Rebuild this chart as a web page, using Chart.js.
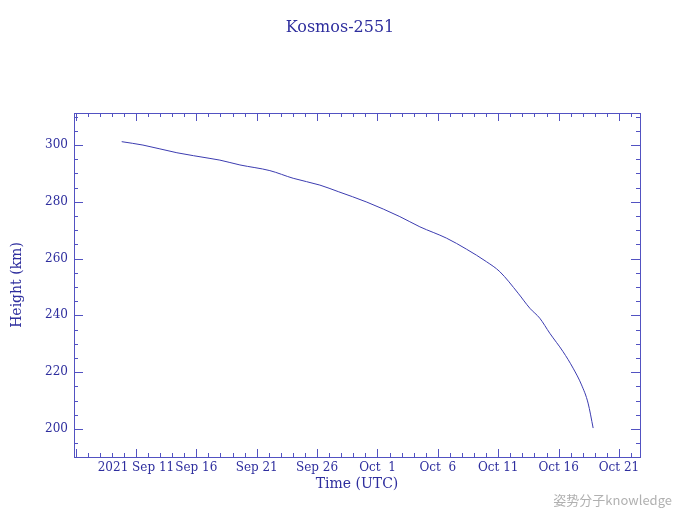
<!DOCTYPE html>
<html>
<head>
<meta charset="utf-8">
<script src="https://cdn.jsdelivr.net/npm/chart.js@4/dist/chart.umd.min.js"></script>
<style>
  html, body { margin: 0; padding: 0; background: #fff; }
  #wrap { width: 680px; height: 514px; }
</style>
</head>
<body>
<div id="wrap"><canvas id="decayChart" width="680" height="514"></canvas></div>
<script>
// days counted from 2021 Sep 1 (00:00 UTC)
const days = [8.82, 10.58, 13.39, 16.13, 16.95, 18.61, 21.09, 23.02, 25.23, 26.75,
              29.12, 31.85, 33.51, 35.72, 37.38, 39.03, 40.13, 41.65, 42.62, 43.44,
              44.27, 45.37, 46.20, 46.90, 47.44, 47.86];
const heights = [301.2, 300.0, 297.3, 295.3, 294.7, 293.0, 291.0, 288.3, 285.9, 283.6,
                 279.9, 274.8, 271.2, 267.2, 263.3, 258.9, 255.4, 247.8, 242.5, 239.0,
                 233.7, 227.2, 221.4, 215.5, 209.1, 200.3];
const xLabelDays = [10, 15, 20, 25, 30, 35, 40, 45, 50];
const yLabels = [200, 220, 240, 260, 280, 300];

const months = ['Jan', 'Feb', 'Mar', 'Apr', 'May', 'Jun', 'Jul', 'Aug', 'Sep', 'Oct', 'Nov', 'Dec'];
const inkColor = '#2e2e9e';
const axisColor = '#5252c2';

function dayLabel(v) {
    const d = new Date(Date.UTC(2021, 8, 1) + v * 86400000);
    const dd = d.getUTCDate();
    let s = months[d.getUTCMonth()] + ' ' + (dd < 10 ? ' ' + dd : dd);
    if (v === xLabelDays[0]) s = '2021 ' + s;
    return s;
}

// inward tick marks on all four sides, like the original plot
const boxTicks = {
    id: 'boxTicks',
    afterDraw(chart) {
        const ctx = chart.ctx;
        const a = chart.chartArea;
        const xs = chart.scales.x, ys = chart.scales.y;
        ctx.save();
        ctx.strokeStyle = axisColor;
        ctx.lineWidth = 1;
        ctx.strokeRect(Math.round(a.left) + 0.5, Math.round(a.top) + 0.5,
                       Math.round(a.right - a.left), Math.round(a.bottom - a.top));
        ctx.beginPath();
        xs.ticks.forEach(t => {
            const px = Math.round(xs.getPixelForValue(t.value)) + 0.5;
            const len = t.value % 5 === 0 ? 8 : 4;
            ctx.moveTo(px, a.bottom); ctx.lineTo(px, a.bottom - len);
            ctx.moveTo(px, a.top); ctx.lineTo(px, a.top + len);
        });
        ys.ticks.forEach(t => {
            const py = Math.round(ys.getPixelForValue(t.value)) + 0.5;
            const len = t.value % 20 === 0 ? 9 : 4;
            ctx.moveTo(a.left, py); ctx.lineTo(a.left + len, py);
            ctx.moveTo(a.right, py); ctx.lineTo(a.right - len, py);
        });
        ctx.stroke();

        ctx.font = '13px "Noto Sans CJK SC"';
        ctx.fillStyle = 'rgba(150,150,150,0.75)';
        ctx.textAlign = 'right';
        ctx.textBaseline = 'middle';
        ctx.fillText('姿势分子knowledge', 672, 500);
        ctx.restore();
    }
};

var ctx = document.getElementById('decayChart').getContext('2d');
var decayChart = new Chart(ctx, {
    type: 'line',
    data: {
        datasets: [{
            label: 'Height',
            data: days.map((d, i) => ({ x: d, y: heights[i] })),
            borderColor: '#3c3cb0',
            borderWidth: 1,
            pointRadius: 0,
            cubicInterpolationMode: 'monotone',
            fill: false
        }]
    },
    options: {
        responsive: false,
        animation: false,
        layout: { padding: { left: 0, right: 0, top: 0, bottom: 20 } },
        plugins: {
            legend: { display: false },
            tooltip: { enabled: false },
            title: {
                display: true,
                text: 'Kosmos-2551',
                color: inkColor,
                font: { family: 'DejaVu Serif', size: 16, weight: 'normal', lineHeight: 1.2 },
                padding: { top: 18, bottom: 75.8 }
            }
        },
        scales: {
            x: {
                type: 'linear',
                min: 4.87,
                max: 51.74,
                grid: { display: false, drawTicks: false },
                border: { display: false },
                afterFit: s => { s.height = 37; },
                ticks: {
                    stepSize: 1,
                    includeBounds: false,
                    autoSkip: false,
                    maxRotation: 0,
                    padding: 4,
                    color: inkColor,
                    font: { family: 'DejaVu Serif', size: 12 },
                    callback: v => xLabelDays.includes(v) ? dayLabel(v) : ''
                },
                title: {
                    display: true,
                    text: 'Time (UTC)',
                    color: inkColor,
                    font: { family: 'DejaVu Serif', size: 14 },
                    padding: { top: 0, bottom: 1 }
                }
            },
            y: {
                min: 190.1,
                max: 311.3,
                grid: { display: false, drawTicks: false },
                border: { display: false },
                afterFit: s => { s.width = 74; },
                ticks: {
                    stepSize: 5,
                    includeBounds: false,
                    autoSkip: false,
                    padding: 6,
                    color: inkColor,
                    font: { family: 'DejaVu Serif', size: 12 },
                    callback: v => yLabels.includes(v) ? String(v) : ''
                },
                title: {
                    display: true,
                    text: 'Height (km)',
                    color: inkColor,
                    font: { family: 'DejaVu Serif', size: 14 },
                    padding: { top: 9, bottom: 0 }
                }
            },
            // empty right-hand margin so the title centres on the canvas
            yRight: {
                position: 'right',
                display: true,
                grid: { display: false, drawTicks: false },
                border: { display: false },
                ticks: { display: false },
                afterFit: s => { s.width = 40; }
            }
        }
    },
    plugins: [boxTicks]
});
</script>
</body>
</html>
